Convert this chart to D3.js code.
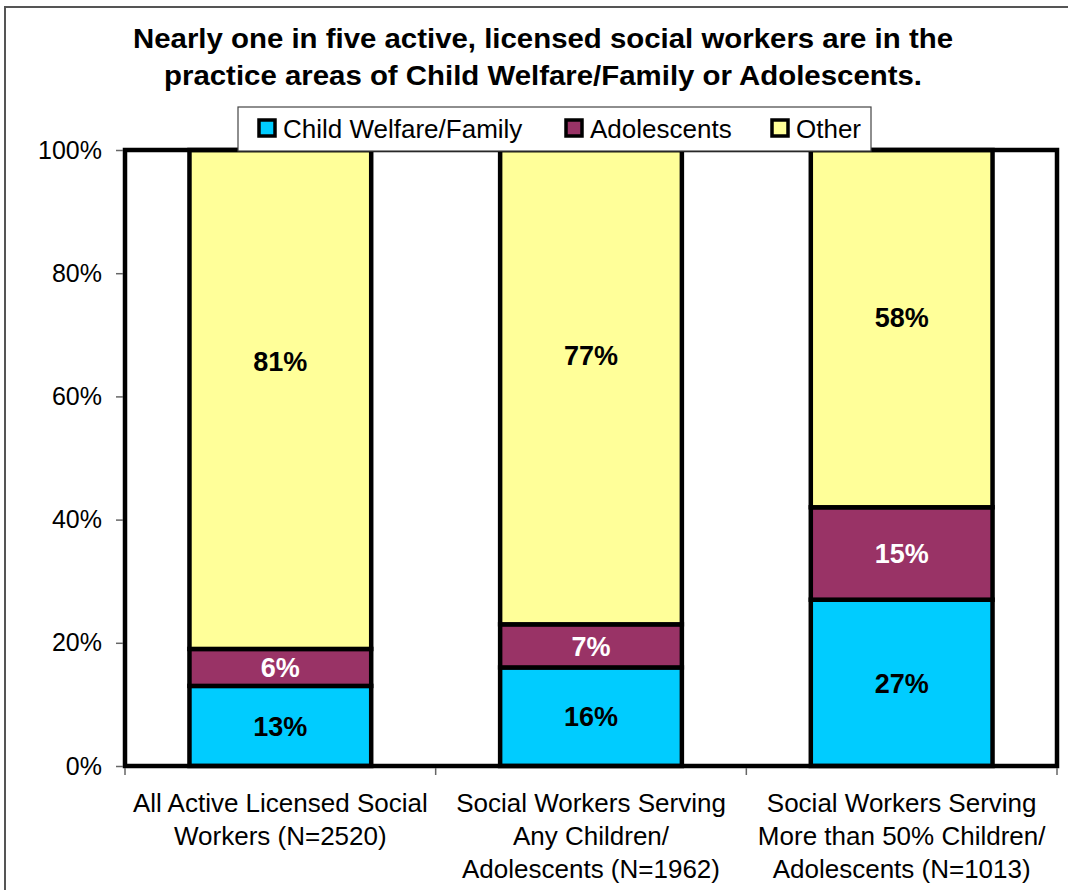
<!DOCTYPE html>
<html>
<head>
<meta charset="utf-8">
<script src="https://cdn.jsdelivr.net/npm/d3@7"></script>
<style>
  html, body { margin: 0; padding: 0; background: #fff; }
  svg { display: block; font-family: "Liberation Sans", Arial, sans-serif; }
</style>
</head>
<body>
<svg id="chart" width="1068" height="890"></svg>
<script>
// ---- data ----
const categories = [
  ["All Active Licensed Social", "Workers (N=2520)"],
  ["Social Workers Serving", "Any Children/", "Adolescents (N=1962)"],
  ["Social Workers Serving", "More than 50% Children/", "Adolescents (N=1013)"]
];
const seriesNames = ["Child Welfare/Family", "Adolescents", "Other"];
const childWelfare = [13, 16, 27];
const adolescents = [6, 7, 15];
const other = [81, 77, 58];
const otherLabelAt = [65.7, 66.7, 72.9]; // where the "Other" labels sit (percent)
const yTicks = [0, 20, 40, 60, 80, 100];
const titleLines = [
  "Nearly one in five active, licensed social workers are in the",
  "practice areas of Child Welfare/Family or Adolescents."
];
const colors = ["#00CCFF", "#993366", "#FFFF99"];
const labelColors = ["#000", "#fff", "#000"];

// ---- layout ----
const svg = d3.select("#chart");
const plot = { left: 125, right: 1057, top: 150, bottom: 766 };

// outer frame
svg.append("rect").attr("x", 5).attr("y", 7).attr("width", 1080).attr("height", 900)
  .attr("fill", "#fff").attr("stroke", "#555").attr("stroke-width", 2);

// title
const titleW = [820, 758];
svg.selectAll("text.title").data(titleLines).join("text")
  .attr("class", "title")
  .attr("x", 543).attr("y", (d, i) => 48 + i * 37)
  .attr("text-anchor", "middle")
  .attr("font-size", 28).attr("font-weight", "bold")
  .attr("textLength", (d, i) => titleW[i]).attr("lengthAdjust", "spacingAndGlyphs")
  .text(d => d);

const x = d3.scaleBand().domain(d3.range(categories.length))
  .range([plot.left, plot.right]).paddingInner(0.415).paddingOuter(0.2075);
const y = d3.scaleLinear().domain([0, 100]).range([plot.bottom, plot.top]);

const series = [childWelfare, adolescents, other];
const table = categories.map((c, i) => {
  const row = { idx: i };
  seriesNames.forEach((s, k) => row[s] = series[k][i]);
  return row;
});
const stack = d3.stack().keys(seriesNames)(table);

// bars
const g = svg.append("g");
stack.forEach((layer, k) => {
  g.selectAll(null).data(layer).join("rect")
    .attr("x", d => x(d.data.idx))
    .attr("width", x.bandwidth())
    .attr("y", d => y(d[1]))
    .attr("height", d => y(d[0]) - y(d[1]))
    .attr("fill", colors[k])
    .attr("stroke", "#000").attr("stroke-width", 4.5);
});

// plot border
svg.append("rect")
  .attr("x", plot.left).attr("y", plot.top)
  .attr("width", plot.right - plot.left).attr("height", plot.bottom - plot.top)
  .attr("fill", "none").attr("stroke", "#000").attr("stroke-width", 4.5);

// y axis
const yAxis = d3.axisLeft(y).tickValues(yTicks).tickFormat(d => d + "%").tickSize(7).tickPadding(14);
const ya = svg.append("g").attr("transform", `translate(${plot.left - 2},0)`).call(yAxis);
ya.select(".domain").remove();
ya.selectAll("line").attr("stroke", "#666").attr("stroke-width", 1.5);
ya.selectAll("text").attr("font-size", 25).attr("fill", "#000")
  .attr("font-family", '"Liberation Sans", Arial, sans-serif');

// x ticks at category boundaries
const boundaries = d3.range(categories.length + 1).map(i =>
  plot.left + i * (plot.right - plot.left) / categories.length);
svg.selectAll("line.xt").data(boundaries).join("line")
  .attr("x1", d => d).attr("x2", d => d)
  .attr("y1", plot.bottom + 2).attr("y2", plot.bottom + 9)
  .attr("stroke", "#666").attr("stroke-width", 1.5);

// category labels
categories.forEach((lines, i) => {
  const cx = x(i) + x.bandwidth() / 2;
  svg.append("text").attr("text-anchor", "middle").attr("font-size", 26)
    .selectAll("tspan").data(lines).join("tspan")
    .attr("x", cx).attr("y", (d, j) => 812 + j * 33)
    .text(d => d);
});

// data labels
stack.forEach((layer, k) => {
  svg.selectAll(null).data(layer).join("text")
    .attr("x", d => x(d.data.idx) + x.bandwidth() / 2)
    .attr("y", (d, i) => k === 2 ? y(otherLabelAt[i]) : y((d[0] + d[1]) / 2))
    .attr("dy", "0.36em")
    .attr("text-anchor", "middle")
    .attr("font-size", 27).attr("font-weight", "bold")
    .attr("fill", labelColors[k])
    .text(d => (d[1] - d[0]) + "%");
});

// legend
const lg = svg.append("g");
lg.append("rect").attr("x", 238).attr("y", 107).attr("width", 633).attr("height", 44)
  .attr("fill", "#fff").attr("stroke", "#444").attr("stroke-width", 1.2);
const legendX = [259, 566, 772];
seriesNames.forEach((s, k) => {
  lg.append("rect").attr("x", legendX[k]).attr("y", 120).attr("width", 16).attr("height", 16)
    .attr("fill", colors[k]).attr("stroke", "#000").attr("stroke-width", 3.5);
  lg.append("text").attr("x", legendX[k] + 24).attr("y", 138).attr("font-size", 26).text(s);
});
</script>
</body>
</html>
